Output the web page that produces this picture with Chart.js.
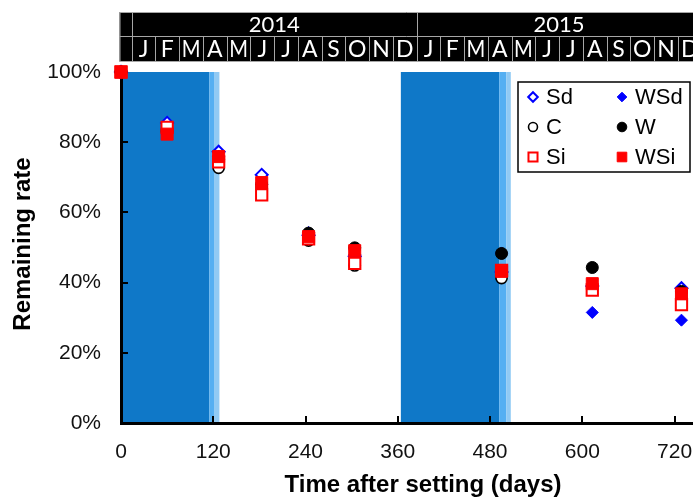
<!DOCTYPE html>
<html>
<head>
<meta charset="utf-8">
<script src="https://cdn.jsdelivr.net/npm/chart.js@4.4.0/dist/chart.umd.min.js"></script>
<style>
  html, body { margin: 0; padding: 0; background: #fff; }
  #wrap { width: 693px; height: 501px; }
</style>
</head>
<body>
<div id="wrap"><canvas id="myChart" width="693" height="501"></canvas></div>
<script>
// sampling days
const days = [0, 60, 127, 183, 244, 304, 495, 613, 729]

// remaining rate (%) per treatment
const sd  = [100, 85.5, 77.3, 70.7, 53.5, 47.5, 43.0, 39.0, 38.4]
const wsd = [100, 83.5, 76.0, 68.0, 54.3, 48.0, 48.4, 31.5, 29.3]
const c   = [100, 83.5, 72.7, 67.0, 52.0, 44.9, 41.3, 38.5, 35.0]
const w   = [100, 83.0, 75.0, 68.0, 54.1, 49.9, 48.3, 44.3, 37.5]
const si  = [100, 84.2, 74.4, 65.0, 52.5, 45.5, 43.5, 37.9, 33.7]
const wsi = [100, 82.3, 75.9, 68.5, 53.1, 49.1, 43.2, 39.7, 36.8]

const xTicks = [0, 120, 240, 360, 480, 600, 720]
const yTicks = [0, 20, 40, 60, 80, 100]

const years = ['2014', '2015']
const months = ['J', 'F', 'M', 'A', 'M', 'J', 'J', 'A', 'S', 'O', 'N', 'D']

// shaded periods, in days
const darkBands = [[0, 115], [364, 492]]
const midBands = [[115, 121], [492, 501]]
const lightBands = [[121, 128], [501, 507]]

const ctx = document.getElementById('myChart')

const makeSet = (label, values, style, fill, stroke, radius, width, order) => ({
    label: label,
    data: days.map((d, i) => ({ x: d, y: values[i] })),
    pointStyle: style,
    backgroundColor: fill,
    borderColor: stroke,
    pointRadius: radius,
    pointBorderWidth: width,
    order: order,
    clip: false,
    showLine: false
})

const datasets = [
    makeSet('Sd', sd, 'rectRot', '#ffffff', '#0000ff', 6, 2, 6),
    makeSet('WSd', wsd, 'rectRot', '#0000ff', '#0000ff', 6, 1, 5),
    makeSet('C', c, 'circle', '#ffffff', '#000000', 5.6, 1.6, 4),
    makeSet('W', w, 'circle', '#000000', '#000000', 6, 1, 3),
    makeSet('Si', si, 'rect', '#ffffff', '#ff0000', 8, 2, 2),
    makeSet('WSi', wsi, 'rect', '#ff0000', '#ff0000', 8.5, 1, 1)
]

const noPad = (s) => {
    s.paddingLeft = 0
    s.paddingRight = 0
    s.paddingTop = 0
    s.paddingBottom = 0
}

const shading = {
    id: 'shading',
    beforeDraw(chart) {
        const { ctx, chartArea: a, scales: { x } } = chart
        const paint = (bands, color) => {
            bands.forEach(b => {
                let x0 = x.getPixelForValue(b[0])
                let x1 = x.getPixelForValue(b[1])
                ctx.fillStyle = color
                ctx.fillRect(x0, a.top, x1 - x0, a.bottom - a.top)
            })
        }
        paint(darkBands, '#0f78c8')
        paint(midBands, '#55aff2')
        paint(lightBands, '#91caf4')
    },
    beforeDatasetsDraw(chart) {
        // inner tick marks
        const { ctx, chartArea: a, scales: { x, y } } = chart
        ctx.save()
        ctx.strokeStyle = '#000'
        ctx.lineWidth = 2
        ctx.beginPath()
        xTicks.slice(1).forEach(v => {
            let px = Math.round(x.getPixelForValue(v))
            ctx.moveTo(px, a.bottom)
            ctx.lineTo(px, a.bottom - 7)
        })
        yTicks.slice(1).forEach(v => {
            let py = Math.round(y.getPixelForValue(v))
            ctx.moveTo(a.left, py)
            ctx.lineTo(a.left + 7, py)
        })
        ctx.stroke()
        ctx.restore()
    },
    afterDraw(chart) {
        const { ctx, chartArea: a, scales: { m } } = chart
        ctx.save()

        // calendar header
        const top = 12, mid = 36.5, bottom = 61.5
        const left = a.left - 1.5, right = chart.width
        ctx.fillStyle = '#000'
        ctx.fillRect(left, top, right - left, bottom - top)
        ctx.strokeStyle = '#a6a6a6'
        ctx.lineWidth = 1
        ctx.beginPath()
        ctx.moveTo(left, top + 0.5); ctx.lineTo(right, top + 0.5)
        ctx.moveTo(left, mid); ctx.lineTo(right, mid)
        ctx.moveTo(left, bottom); ctx.lineTo(right, bottom)
        ctx.moveTo(left + 0.5, top); ctx.lineTo(left + 0.5, bottom)
        for (let k = 0; k <= years.length * 12; k++) {
            let px = Math.round(m.getPixelForValue(k)) + 0.5
            if (px > right) break
            ctx.moveTo(px, k % 12 === 0 ? top : mid)
            ctx.lineTo(px, bottom)
        }
        ctx.stroke()

        ctx.fillStyle = '#fff'
        ctx.textAlign = 'center'
        ctx.textBaseline = 'middle'
        ctx.font = '22px Lato'
        years.forEach((yr, i) => {
            let x0 = m.getPixelForValue(i * 12)
            let x1 = m.getPixelForValue(i * 12 + 12)
            ctx.fillText(yr, (x0 + x1) / 2, 25)
        })
        ctx.font = '23px Lato'
        years.forEach((yr, i) => {
            months.forEach((mo, j) => {
                let x0 = m.getPixelForValue(i * 12 + j)
                let x1 = m.getPixelForValue(i * 12 + j + 1)
                ctx.fillText(mo, (x0 + x1) / 2, 50, x1 - x0 - 5)
            })
        })

        // axis titles
        ctx.fillStyle = '#000'
        ctx.font = 'bold 24px "Liberation Sans"'
        ctx.fillText('Time after setting (days)', 423, 485)
        ctx.translate(23, 244)
        ctx.rotate(-Math.PI / 2)
        ctx.fillText('Remaining rate', 0, 0)
        ctx.setTransform(1, 0, 0, 1, 0, 0)

        // legend box
        const bx = a.right - 175, by = a.top + 10, bw = 172, bh = 90
        ctx.fillStyle = '#fff'
        ctx.fillRect(bx, by, bw, bh)
        ctx.strokeStyle = '#000'
        ctx.lineWidth = 1.5
        ctx.strokeRect(bx, by, bw, bh)
        ctx.font = '22px "Liberation Sans"'
        ctx.textAlign = 'left'
        chart.data.datasets.forEach((ds, i) => {
            let col = i % 2, row = Math.floor(i / 2)
            let mx = bx + 15 + col * 89
            let my = by + 15 + row * 30
            ctx.fillStyle = ds.backgroundColor
            ctx.strokeStyle = ds.borderColor
            ctx.lineWidth = ds.pointBorderWidth
            Chart.helpers.drawPoint(ctx, {
                pointStyle: ds.pointStyle,
                rotation: 0,
                radius: ds.pointRadius * 0.8,
                borderWidth: ds.pointBorderWidth
            }, mx, my)
            ctx.fillStyle = '#000'
            ctx.fillText(ds.label, mx + 13, my + 1)
        })
        ctx.restore()
    }
}

const myChart = new Chart(ctx, {
    type: 'scatter',
    data: { datasets: datasets },
    options: {
        responsive: false,
        devicePixelRatio: 1,
        animation: false,
        layout: { autoPadding: false, padding: { top: 72, left: 0, right: 0, bottom: 0 } },
        plugins: {
            legend: { display: false },
            tooltip: { enabled: false }
        },
        scales: {
            x: {
                type: 'linear',
                min: 0,
                max: 744,
                afterFit: (s) => { s.height = 78; noPad(s) },
                afterBuildTicks: (s) => { s.ticks = xTicks.map(v => ({ value: v })) },
                grid: { display: false, drawTicks: false },
                border: { color: '#000', width: 3 },
                ticks: {
                    font: { family: 'Liberation Sans', size: 21 },
                    color: '#111',
                    padding: 17,
                    maxRotation: 0
                }
            },
            y: {
                type: 'linear',
                min: 0,
                max: 100,
                afterFit: (s) => { s.width = 121; noPad(s) },
                afterBuildTicks: (s) => { s.ticks = yTicks.map(v => ({ value: v })) },
                grid: { display: false, drawTicks: false },
                border: { color: '#000', width: 3 },
                ticks: {
                    font: { family: 'Liberation Sans', size: 21 },
                    color: '#111',
                    padding: 20,
                    callback: (v) => v + '%'
                }
            },
            m: {
                type: 'linear',
                axis: 'x',
                position: 'top',
                display: false,
                min: -0.45,
                max: 23.64,
                afterFit: noPad
            }
        }
    },
    plugins: [shading]
})
</script>
</body>
</html>
